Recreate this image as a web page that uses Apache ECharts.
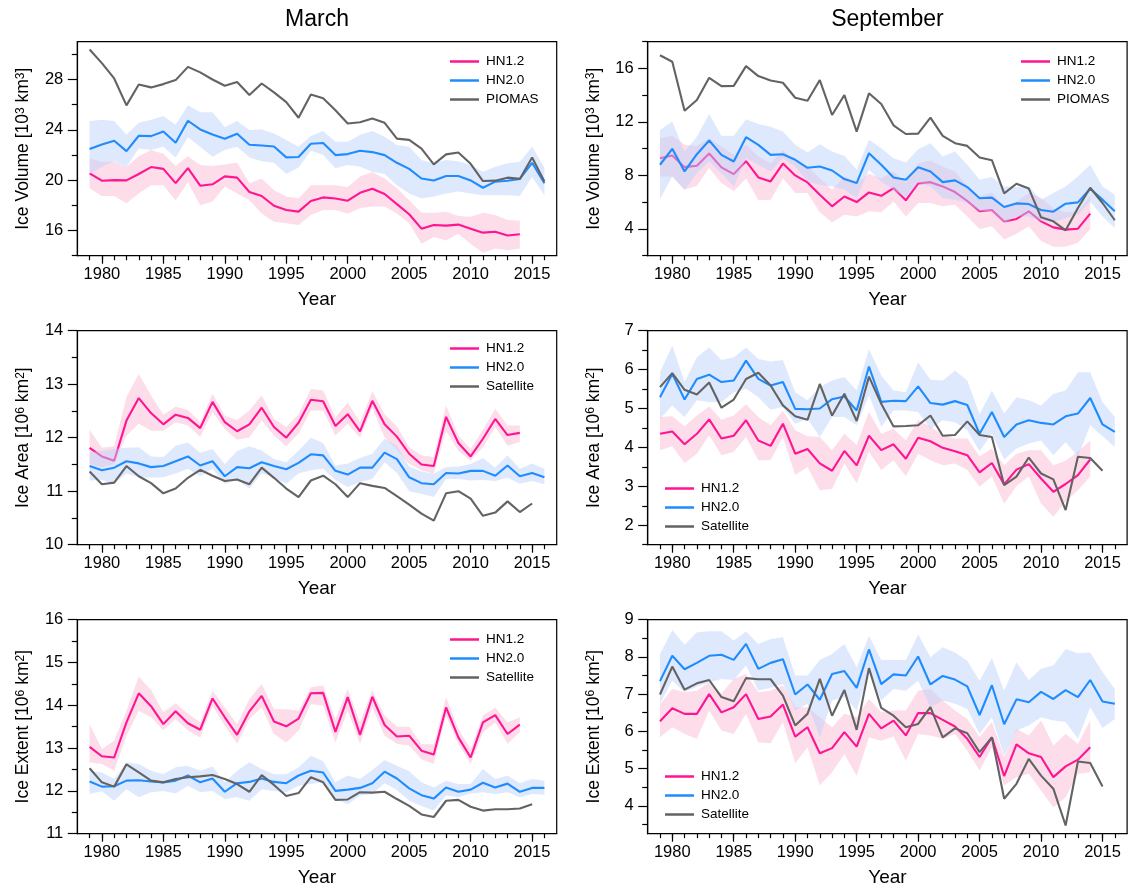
<!DOCTYPE html>
<html><head><meta charset="utf-8">
<script src="https://cdn.jsdelivr.net/npm/echarts/dist/echarts.min.js"></script>
<style>html,body{margin:0;padding:0;background:#fff}#c{width:1129px;height:888px}</style>
</head><body><div id="c"></div>
<script>
// ---------- data ----------
const years = [1979,1980,1981,1982,1983,1984,1985,1986,1987,1988,1989,1990,1991,1992,1993,1994,1995,1996,1997,1998,1999,2000,2001,2002,2003,2004,2005,2006,2007,2008,2009,2010,2011,2012,2013,2014,2015,2016];
const xMajorTicks = [1980,1985,1990,1995,2000,2005,2010,2015];

// March ice volume
const marVolPIOMAS = [30.38,29.3,28.08,25.94,27.6,27.37,27.63,27.95,29.0,28.56,28.0,27.5,27.8,26.76,27.68,26.97,26.2,24.96,26.8,26.5,25.56,24.5,24.6,24.9,24.56,23.3,23.2,22.5,21.25,22.05,22.2,21.3,19.93,19.96,20.2,20.1,21.8,19.9];
const marVolHN20 = [22.47,22.84,23.13,22.31,23.53,23.5,23.87,22.97,24.72,24.03,23.63,23.29,23.69,22.81,22.76,22.68,21.81,21.84,22.89,22.95,21.99,22.07,22.34,22.23,21.99,21.38,20.9,20.13,19.98,20.33,20.33,19.98,19.4,19.88,19.96,20.1,21.38,19.75];
const marVolHN20Hi = [24.7,24.8,24.7,23.6,24.56,24.8,25.1,24.4,25.96,25.4,25.4,24.2,24.7,23.98,24.03,23.7,23.2,22.66,23.5,23.9,23.05,23.05,23.6,23.9,23.45,22.8,22.66,21.6,21.35,21.6,21.5,21.2,20.67,21.07,21.35,21.47,22.66,21.0];
const marVolHN20Lo = [20.5,21.07,21.5,21.07,22.52,22.4,22.66,21.8,23.4,22.66,21.86,22.4,22.66,21.8,21.5,21.39,20.5,21.0,22.34,22.0,20.95,21.2,21.07,20.67,20.49,19.6,18.95,18.55,18.7,18.95,19.1,18.95,18.8,18.8,18.8,18.75,20.25,18.8];
const marVolHN12 = [20.54,19.96,20.0,19.98,20.49,21.04,20.9,19.77,20.96,19.56,19.67,20.3,20.2,19.06,18.74,17.97,17.63,17.5,18.34,18.63,18.55,18.37,19.0,19.32,18.9,18.1,17.29,16.15,16.44,16.39,16.47,16.15,15.83,15.9,15.6,15.7];
const marVolHN12Hi = [21.73,21.47,21.47,21.07,21.9,22.4,22.1,21.12,21.9,21.2,21.12,21.25,21.39,19.75,20.14,19.2,18.7,18.55,19.6,19.6,19.6,19.46,20.3,20.64,20.14,19.35,18.4,17.42,17.42,17.5,17.15,17.1,17.42,17.23,16.84,16.78];
const marVolHN12Lo = [19.35,18.74,18.74,18.16,18.95,19.6,19.6,18.4,19.85,18.0,18.3,19.5,18.95,18.4,17.36,16.7,16.57,16.44,17.24,17.63,17.63,17.36,17.76,17.9,17.9,17.36,16.57,14.95,15.48,15.2,15.75,14.95,14.23,14.58,14.44,14.58];

// September ice volume
const sepVolPIOMAS = [16.99,16.5,12.84,13.64,15.3,14.68,14.7,16.17,15.43,15.1,14.93,13.81,13.59,15.13,12.52,14.01,11.28,14.14,13.34,11.75,11.1,11.13,12.32,10.96,10.41,10.21,9.34,9.14,6.66,7.38,7.03,4.87,4.57,3.9,5.57,7.08,5.94,4.65];
const sepVolHN20 = [8.8,9.99,8.3,9.59,10.61,9.54,9.04,10.86,10.29,9.54,9.59,9.17,8.57,8.67,8.37,7.73,7.43,9.66,8.8,7.85,7.68,8.62,8.3,7.5,7.63,7.13,6.29,6.34,5.64,5.91,5.86,5.42,5.29,5.89,5.99,7.0,6.19,5.32];
const sepVolHN20Hi = [11.4,12.03,9.79,10.9,12.6,10.96,10.96,12.2,11.85,11.65,11.28,10.29,9.71,10.34,9.79,9.47,8.42,10.66,10.04,9.29,8.97,9.96,10.41,9.42,9.79,8.8,7.68,7.88,7.18,7.13,7.18,6.19,6.68,7.18,7.93,8.8,7.18,6.56];
const sepVolHN20Lo = [6.24,7.93,6.93,8.17,9.04,8.17,7.18,9.29,8.8,8.3,9.29,8.67,7.55,7.3,7.18,6.93,6.31,8.42,7.55,6.93,6.31,7.43,7.18,6.31,6.19,5.94,5.32,5.32,4.45,4.94,4.94,4.57,4.5,4.82,5.07,6.06,4.94,4.07];
const sepVolHN12 = [9.29,9.49,8.62,8.72,9.64,8.6,8.1,9.07,7.85,7.55,8.89,8.0,7.48,6.56,5.69,6.43,6.01,6.73,6.48,7.06,6.14,7.4,7.5,7.18,6.76,6.09,5.32,5.42,4.55,4.75,5.32,4.57,4.12,3.95,4.02,5.14];
const sepVolHN12Hi = [10.78,10.96,10.29,10.21,10.78,10.16,9.54,10.29,9.42,8.92,9.91,9.04,8.67,7.8,6.93,7.93,7.43,8.12,7.8,8.3,7.43,8.92,9.12,8.67,8.3,7.23,6.43,6.73,5.69,6.06,6.68,6.31,5.57,5.24,5.32,6.48];
const sepVolHN12Lo = [7.93,7.93,6.93,7.23,8.55,7.43,6.81,7.8,6.14,6.19,7.8,6.68,6.68,5.24,4.5,5.07,4.94,5.32,5.24,6.06,4.94,5.94,5.94,5.69,5.81,4.94,4.0,4.2,3.21,3.65,4.2,3.09,2.66,2.66,2.96,3.97];

// March ice area
const marAreaSat = [11.37,11.13,11.16,11.47,11.28,11.15,10.96,11.05,11.25,11.4,11.29,11.19,11.22,11.13,11.44,11.25,11.05,10.89,11.2,11.29,11.13,10.89,11.15,11.1,11.06,10.91,10.75,10.58,10.45,10.96,11.0,10.86,10.54,10.6,10.81,10.61,10.77];
const marAreaHN20 = [11.47,11.39,11.44,11.56,11.52,11.45,11.47,11.56,11.65,11.48,11.56,11.28,11.45,11.43,11.54,11.47,11.41,11.53,11.69,11.67,11.38,11.31,11.44,11.44,11.72,11.6,11.26,11.15,11.13,11.34,11.33,11.38,11.38,11.29,11.48,11.28,11.34,11.26];
const marAreaHN20Hi = [11.73,11.75,11.79,11.81,11.82,11.65,11.64,11.85,11.91,11.72,11.79,11.51,11.75,11.84,11.76,11.6,11.54,11.76,12.0,11.9,11.48,11.52,11.62,11.7,11.98,11.85,11.46,11.37,11.33,11.45,11.46,11.51,11.62,11.44,11.67,11.42,11.52,11.42];
const marAreaHN20Lo = [11.2,11.21,11.14,11.33,11.26,11.25,11.26,11.33,11.42,11.28,11.42,11.14,11.21,11.05,11.33,11.25,11.14,11.33,11.39,11.42,11.21,11.08,11.17,11.23,11.54,11.34,11.0,10.95,10.89,11.23,11.23,11.2,11.21,11.19,11.25,11.14,11.19,11.13];
const marAreaHN12 = [11.81,11.65,11.57,12.32,12.74,12.46,12.25,12.43,12.37,12.18,12.67,12.29,12.12,12.25,12.56,12.2,12.0,12.28,12.71,12.68,12.22,12.44,12.12,12.69,12.25,12.02,11.7,11.5,11.47,12.39,11.9,11.65,11.98,12.35,12.05,12.09];
const marAreaHN12Hi = [12.15,11.81,11.84,12.76,13.19,12.79,12.43,12.58,12.52,12.29,12.82,12.41,12.33,12.51,12.79,12.35,12.2,12.44,12.91,12.88,12.38,12.66,12.29,12.87,12.44,12.21,11.82,11.67,11.64,12.6,12.04,11.79,12.15,12.54,12.23,12.23];
const marAreaHN12Lo = [11.51,11.45,11.51,12.04,12.26,12.13,12.13,12.29,12.23,12.02,12.48,12.16,11.96,12.01,12.32,12.04,11.84,12.08,12.51,12.51,12.04,12.26,12.0,12.56,12.01,11.77,11.51,11.39,11.33,12.13,11.75,11.57,11.82,12.2,11.85,11.92];

// September ice area
const sepAreaSat = [5.55,5.91,5.48,5.36,5.67,5.02,5.23,5.76,5.92,5.59,5.08,4.8,4.71,5.63,4.82,5.38,4.68,5.82,5.12,4.54,4.55,4.57,4.82,4.3,4.32,4.67,4.32,4.27,3.03,3.25,3.74,3.33,3.18,2.39,3.76,3.73,3.4];
const sepAreaHN20 = [5.29,5.89,5.23,5.76,5.87,5.68,5.72,6.23,5.76,5.59,5.68,4.99,4.98,5.0,5.24,5.31,4.95,6.08,5.17,5.2,5.19,5.57,5.14,5.1,5.19,5.09,4.35,4.91,4.27,4.59,4.7,4.63,4.59,4.8,4.87,5.27,4.59,4.4];
const sepAreaHN20Hi = [5.93,6.62,5.68,6.32,6.57,6.25,6.32,6.57,6.27,6.21,6.25,5.42,5.21,5.55,5.72,5.81,5.46,6.53,5.85,5.46,5.42,6.19,5.74,5.72,5.98,5.72,4.85,5.46,4.87,5.29,5.21,5.08,5.38,5.46,5.93,5.93,5.17,4.78];
const sepAreaHN20Lo = [4.74,5.08,4.78,5.21,5.17,5.17,5.42,5.51,5.29,4.97,5.04,4.61,4.74,4.27,4.78,4.78,4.57,5.34,4.53,4.95,4.95,4.91,4.48,4.7,4.65,4.44,3.9,4.35,3.69,3.97,4.1,4.18,3.8,4.14,3.76,4.57,4.29,4.01];
const sepAreaHN12 = [4.35,4.41,4.08,4.35,4.72,4.23,4.3,4.7,4.18,4.04,4.61,3.84,3.96,3.59,3.4,3.91,3.54,4.3,3.93,4.08,3.71,4.25,4.16,3.99,3.9,3.8,3.36,3.6,3.05,3.43,3.57,3.2,2.86,3.06,3.29,3.69];
const sepAreaHN12Hi = [4.78,4.8,4.54,4.82,5.05,4.71,4.82,5.11,4.78,4.57,4.94,4.44,4.29,4.27,3.93,4.35,4.06,4.91,4.35,4.48,4.18,4.7,4.54,4.31,4.23,4.23,3.77,3.97,3.54,3.84,3.93,3.93,3.54,3.66,3.89,4.18];
const sepAreaHN12Lo = [3.93,4.03,3.6,3.84,4.31,3.8,3.89,4.27,3.67,3.67,4.27,3.29,3.5,2.9,2.94,3.59,3.08,3.89,3.42,3.67,3.26,3.84,3.67,3.54,3.59,3.42,2.99,3.25,2.56,3.01,3.25,2.56,2.22,2.61,2.9,3.25];

// March ice extent
const marExtSat = [12.53,12.2,12.1,12.62,12.43,12.24,12.2,12.28,12.32,12.34,12.37,12.28,12.16,11.98,12.37,12.14,11.88,11.95,12.32,12.2,11.79,11.8,11.97,11.96,11.98,11.81,11.65,11.45,11.39,11.77,11.79,11.63,11.54,11.57,11.57,11.59,11.69];
const marExtHN20 = [12.22,12.1,12.11,12.24,12.25,12.22,12.2,12.24,12.36,12.2,12.29,11.98,12.18,12.21,12.29,12.21,12.18,12.36,12.47,12.43,12.0,12.03,12.07,12.18,12.45,12.29,12.06,11.9,11.82,12.08,11.98,12.03,12.19,12.08,12.17,11.98,12.07,12.07];
const marExtHN20Hi = [12.47,12.43,12.28,12.67,12.63,12.47,12.39,12.55,12.59,12.47,12.57,12.2,12.47,12.67,12.51,12.39,12.39,12.55,12.82,12.69,12.2,12.36,12.28,12.49,12.72,12.59,12.46,12.2,12.08,12.24,12.16,12.16,12.51,12.28,12.36,12.18,12.28,12.24];
const marExtHN20Lo = [11.93,11.99,11.77,12.04,11.85,11.97,12.0,11.94,12.12,11.97,12.0,11.81,11.85,11.77,12.04,12.0,11.97,12.12,12.16,12.2,11.81,11.69,11.89,11.93,12.18,12.02,11.77,11.65,11.54,11.89,11.85,11.94,11.97,11.93,11.97,11.85,11.93,11.91];
const marExtHN12 = [13.03,12.81,12.78,13.6,14.28,13.98,13.56,13.86,13.58,13.43,14.16,13.72,13.31,13.86,14.22,13.62,13.51,13.69,14.28,14.29,13.38,14.19,13.31,14.2,13.54,13.27,13.29,12.94,12.85,13.95,13.25,12.78,13.6,13.77,13.33,13.55];
const marExtHN12Hi = [13.56,12.98,13.17,13.87,14.67,14.36,13.83,14.05,13.8,13.6,14.34,13.95,13.56,14.15,14.5,13.91,13.91,13.87,14.42,14.46,13.68,14.38,13.6,14.36,13.76,13.5,13.5,13.09,13.09,14.19,13.45,12.98,13.76,13.95,13.6,13.72];
const marExtHN12Lo = [12.67,12.63,12.47,13.29,13.87,13.72,13.42,13.68,13.41,13.25,13.99,13.52,13.1,13.68,13.95,13.33,13.13,13.41,14.03,13.99,13.13,13.87,13.1,13.95,13.29,13.1,13.06,12.74,12.63,13.76,13.1,12.63,13.37,13.6,13.1,13.37];

// September ice extent
const sepExtSat = [6.99,7.74,7.12,7.29,7.38,6.92,6.81,7.43,7.4,7.4,6.96,6.16,6.47,7.41,6.42,7.11,6.04,7.7,6.63,6.42,6.11,6.2,6.65,5.84,6.08,5.95,5.44,5.84,4.19,4.59,5.26,4.81,4.46,3.47,5.19,5.15,4.52];
const sepExtHN20 = [7.35,8.03,7.67,7.84,8.03,8.06,7.92,8.35,7.68,7.84,7.94,6.99,7.26,6.85,7.54,7.62,7.17,8.2,7.27,7.53,7.5,8.01,7.26,7.49,7.39,7.21,6.44,7.24,6.19,6.86,6.78,7.06,6.87,7.11,6.92,7.38,6.8,6.74];
const sepExtHN20Hi = [8.08,8.72,8.33,8.66,8.69,8.69,8.44,8.68,8.35,8.48,8.53,7.5,7.5,7.92,8.08,8.35,7.72,8.57,7.92,7.92,7.92,8.6,7.99,8.26,8.12,7.9,7.36,7.97,7.09,7.86,7.38,7.68,7.77,8.21,8.1,8.12,7.59,7.14];
const sepExtHN20Lo = [6.74,7.36,7.05,7.2,7.32,7.41,7.38,7.77,7.09,7.17,7.27,6.56,6.74,5.84,6.83,6.92,6.56,7.63,6.83,7.14,7.09,7.36,6.65,6.83,6.74,6.6,5.93,6.38,5.35,6.02,6.16,6.38,6.29,6.25,5.8,6.65,6.09,6.33];
const sepExtHN12 = [6.27,6.62,6.47,6.47,7.0,6.51,6.65,7.0,6.33,6.4,6.72,5.86,6.11,5.41,5.55,5.98,5.59,6.47,6.08,6.29,5.89,6.49,6.49,6.31,6.13,5.8,5.31,5.84,4.8,5.65,5.41,5.31,4.77,5.06,5.24,5.57];
const sepExtHN12Hi = [6.72,7.14,7.05,7.09,7.32,7.02,7.41,7.54,7.05,7.09,7.23,6.65,6.65,6.38,6.11,6.47,6.38,6.87,6.51,6.56,6.56,7.09,7.14,6.83,6.56,6.33,5.84,6.25,5.31,6.07,5.89,6.29,5.62,5.93,5.66,6.29];
const sepExtHN12Lo = [5.84,6.11,5.93,5.8,6.56,6.02,5.93,6.47,5.71,5.68,6.25,5.14,5.57,4.55,4.9,5.39,4.81,5.84,5.75,5.86,5.22,5.93,5.89,5.8,5.93,5.48,4.95,5.57,4.55,4.77,4.86,4.41,3.96,4.23,4.86,4.9];

// axis ticks
const volMarMajor = [16,20,24,28], volMarMinor = [14,18,22,26,30];
const volSepMajor = [4,8,12,16], volSepMinor = [2,6,10,14,18];
const areaMarMajor = [10,11,12,13,14], areaMarMinor = [10.5,11.5,12.5,13.5];
const areaSepMajor = [2,3,4,5,6,7], areaSepMinor = [1.5,2.5,3.5,4.5,5.5,6.5];
const extMarMajor = [11,12,13,14,15,16], extMarMinor = [11.5,12.5,13.5,14.5,15.5];
const extSepMajor = [4,5,6,7,8,9], extSepMinor = [3.5,4.5,5.5,6.5,7.5,8.5];

// ---------- chart ----------
const FONT = '"Liberation Sans", Arial, Helvetica, sans-serif';
const C12 = '#ff1493', C20 = '#1e8cff', COBS = '#636363';
const BAND12 = 'rgba(250,188,212,0.5)', BAND20 = 'rgba(188,210,252,0.48)';

const panels = [
  {yName:'Ice Volume [10{s|3} km{s|3}]', min:14, max:31, major:volMarMajor, minor:volMarMinor,
   hn12:marVolHN12, hn12Lo:marVolHN12Lo, hn12Hi:marVolHN12Hi, hn20:marVolHN20, hn20Lo:marVolHN20Lo, hn20Hi:marVolHN20Hi,
   obs:marVolPIOMAS, obsName:'PIOMAS', leg:[450,54]},
  {yName:'Ice Volume [10{s|3} km{s|3}]', min:2, max:18, major:volSepMajor, minor:volSepMinor,
   hn12:sepVolHN12, hn12Lo:sepVolHN12Lo, hn12Hi:sepVolHN12Hi, hn20:sepVolHN20, hn20Lo:sepVolHN20Lo, hn20Hi:sepVolHN20Hi,
   obs:sepVolPIOMAS, obsName:'PIOMAS', leg:[1021,54]},
  {yName:'Ice Area [10{s|6} km{s|2}]', min:10, max:14, major:areaMarMajor, minor:areaMarMinor,
   hn12:marAreaHN12, hn12Lo:marAreaHN12Lo, hn12Hi:marAreaHN12Hi, hn20:marAreaHN20, hn20Lo:marAreaHN20Lo, hn20Hi:marAreaHN20Hi,
   obs:marAreaSat, obsName:'Satellite', leg:[450,341]},
  {yName:'Ice Area [10{s|6} km{s|2}]', min:1.5, max:7, major:areaSepMajor, minor:areaSepMinor,
   hn12:sepAreaHN12, hn12Lo:sepAreaHN12Lo, hn12Hi:sepAreaHN12Hi, hn20:sepAreaHN20, hn20Lo:sepAreaHN20Lo, hn20Hi:sepAreaHN20Hi,
   obs:sepAreaSat, obsName:'Satellite', leg:[665,481]},
  {yName:'Ice Extent [10{s|6} km{s|2}]', min:11, max:16, major:extMarMajor, minor:extMarMinor,
   hn12:marExtHN12, hn12Lo:marExtHN12Lo, hn12Hi:marExtHN12Hi, hn20:marExtHN20, hn20Lo:marExtHN20Lo, hn20Hi:marExtHN20Hi,
   obs:marExtSat, obsName:'Satellite', leg:[450,632]},
  {yName:'Ice Extent [10{s|6} km{s|2}]', min:3.25, max:9, major:extSepMajor, minor:extSepMinor,
   hn12:sepExtHN12, hn12Lo:sepExtHN12Lo, hn12Hi:sepExtHN12Hi, hn20:sepExtHN20, hn20Lo:sepExtHN20Lo, hn20Hi:sepExtHN20Hi,
   obs:sepExtSat, obsName:'Satellite', leg:[665,769]}
];

const GL = [77.3, 647.7], GT = [41.7, 330.7, 619.7], GW = 479.4, GH = 214;
const grids = [], xAxes = [], yAxes = [], series = [], legends = [];
const axisLineStyle = {color:'#000', width:1.2};
const plainNum = v => String(v);

function pairs(vals){ return vals.map((v,i)=>[years[i], v]); }
function bandSeries(idx, lo, hi, color, z){
  return {
    type:'custom', xAxisIndex:2*idx, yAxisIndex:2*idx, z:z, silent:true, clip:true,
    data: lo.map((v,i)=>[years[i], v, hi[i]]),
    encode:{x:0, y:[1,2]},
    renderItem:function(params, api){
      if (params.dataIndex !== 0) return null;
      const pts = [];
      for (let i=0;i<hi.length;i++) pts.push(api.coord([years[i], hi[i]]));
      for (let i=lo.length-1;i>=0;i--) pts.push(api.coord([years[i], lo[i]]));
      return {type:'polygon', shape:{points:pts}, style:{fill:color, stroke:null}};
    }
  };
}
function lineSeries(idx, name, vals, color, z){
  return {type:'line', name:name, xAxisIndex:2*idx, yAxisIndex:2*idx, z:z,
    data:pairs(vals), symbol:'none', showSymbol:false, silent:true,
    lineStyle:{width:2.1, color:color}, itemStyle:{color:color}};
}

panels.forEach((p, i) => {
  const col = i % 2, row = Math.floor(i / 2);
  grids.push({left:GL[col], top:GT[row], width:GW, height:GH, show:true, borderColor:'#000', borderWidth:1.2,
    backgroundColor:'transparent', containLabel:false, outerBoundsMode:'none'});
  xAxes.push({gridIndex:i, type:'value', min:1978, max:2017, position:'bottom',
    axisLine:{show:true, onZero:false, lineStyle:axisLineStyle},
    axisTick:{show:true, customValues:xMajorTicks, length:8, lineStyle:axisLineStyle},
    axisLabel:{show:true, customValues:xMajorTicks, formatter:plainNum, margin:10, fontSize:16.5, color:'#000', fontFamily:FONT},
    splitLine:{show:false},
    name:'Year', nameLocation:'middle', nameGap:35, nameTextStyle:{fontSize:19, color:'#000', fontFamily:FONT}});
  xAxes.push({gridIndex:i, type:'value', min:1978, max:2017, position:'bottom',
    axisLine:{show:false}, axisTick:{show:true, customValues:years, length:4.5, lineStyle:axisLineStyle},
    axisLabel:{show:false}, splitLine:{show:false}});
  yAxes.push({gridIndex:i, type:'value', min:p.min, max:p.max, position:'left',
    axisLine:{show:true, onZero:false, lineStyle:axisLineStyle},
    axisTick:{show:true, customValues:p.major, length:9.5, lineStyle:axisLineStyle},
    axisLabel:{show:true, customValues:p.major, formatter:plainNum, margin:14, fontSize:16.5, color:'#000', fontFamily:FONT},
    splitLine:{show:false},
    name:p.yName, nameLocation:'middle', nameGap:45,
    nameTextStyle:{fontSize:17.5, color:'#000', fontFamily:FONT,
      rich:{s:{fontSize:12, color:'#000', fontFamily:FONT, verticalAlign:'top'}}}});
  yAxes.push({gridIndex:i, type:'value', min:p.min, max:p.max, position:'left',
    axisLine:{show:false}, axisTick:{show:true, customValues:p.minor, length:5.5, lineStyle:axisLineStyle},
    axisLabel:{show:false}, splitLine:{show:false}});

  series.push(bandSeries(i, p.hn12Lo, p.hn12Hi, BAND12, 1));
  series.push(lineSeries(i, 'HN1.2', p.hn12, C12, 2));
  series.push(bandSeries(i, p.hn20Lo, p.hn20Hi, BAND20, 3));
  series.push(lineSeries(i, 'HN2.0', p.hn20, C20, 4));
  series.push(lineSeries(i, p.obsName, p.obs, COBS, 5));

  legends.push({orient:'vertical', left:p.leg[0], top:p.leg[1], padding:0, itemGap:4,
    itemWidth:29, itemHeight:2.5, icon:'rect', selectedMode:false,
    textStyle:{fontSize:13.5, lineHeight:15, color:'#000', fontFamily:FONT, padding:[0,0,0,2]},
    data:['HN1.2','HN2.0',p.obsName]});
});

const chart = echarts.init(document.getElementById('c'), null, {renderer:'canvas', width:1129, height:888});
chart.setOption({
  animation:false,
  backgroundColor:'#fff',
  textStyle:{fontFamily:FONT},
  graphic:[
    {type:'text', x:317, y:20, style:{text:'March', fontSize:23, fontFamily:FONT, fill:'#000', align:'center', verticalAlign:'middle'}},
    {type:'text', x:887.4, y:20, style:{text:'September', fontSize:23, fontFamily:FONT, fill:'#000', align:'center', verticalAlign:'middle'}}
  ],
  grid:grids, xAxis:xAxes, yAxis:yAxes, legend:legends, series:series
});
</script>
</body></html>
